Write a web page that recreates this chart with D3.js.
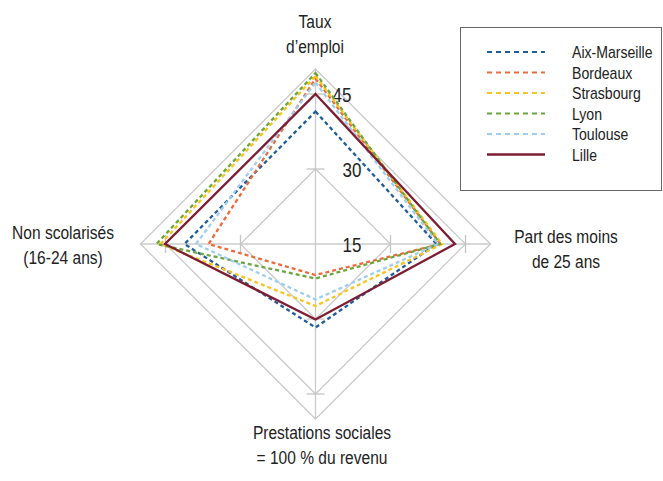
<!DOCTYPE html>
<html>
<head>
<meta charset="utf-8">
<script src="https://cdn.jsdelivr.net/npm/d3@7"></script>
<style>
  body { margin: 0; background: #fff; }
  text { font-family: "Liberation Sans", Arial, sans-serif; fill: #222; }
</style>
</head>
<body>
<div class="radar"></div>
<script>
// DATA -----------------------------------

// axes, clockwise from the top
var axes = ["Taux d'emploi", "Part des moins de 25 ans", "Prestations sociales", "Non scolarisés"];

var cities = ["Aix-Marseille", "Bordeaux", "Strasbourg", "Lyon", "Toulouse", "Lille"];

// one value per axis, same order as axes
var aixValues = [41.5, 39.2, 31.7, 41.2];
var bordeauxValues = [48.1, 40.0, 21.2, 36.4];
var strasbourgValues = [48.6, 40.3, 27.4, 46.0];
var lyonValues = [49.2, 39.9, 21.9, 46.8];
var toulouseValues = [47.3, 39.5, 26.1, 38.9];
var lilleValues = [45.0, 42.9, 30.1, 45.1];

var tickValues = [15, 30, 45];
var gridValues = [30, 45, 50];

var colors = ["#215d9a", "#ec6a3b", "#f9c41c", "#6aa63d", "#9fcdef", "#7d1d34"];

// SET UP SVG ELEMENT -----------------------------------

var svgWidth = 663;
var svgHeight = 481;

var cx = 315.5;
var cy = 244;
var outerRadius = 175;

var svg = d3.select(".radar")
  .append("svg")
  .attr("width", svgWidth)
  .attr("height", svgHeight);

var chartGroup = svg.append("g")
  .attr("transform", `translate(${cx}, ${cy})`);

// radial scale: 15 sits at the centre
var rScale = d3.scaleLinear()
  .domain([15, 50])
  .range([0, outerRadius]);

// angle of each axis (top, right, bottom, left)
var angle = d3.scaleBand()
  .domain(axes)
  .range([0, 2 * Math.PI]);

function point(axis, value) {
  var a = angle(axis);
  var r = rScale(value);
  return [r * Math.sin(a), -r * Math.cos(a)];
}

// condensed text: the original font is a narrow sans
function narrowText(parent, x, y, size, squeeze, anchor) {
  return parent.append("text")
    .attr("transform", `translate(${x}, ${y}) scale(${squeeze}, 1)`)
    .attr("text-anchor", anchor || "start")
    .style("font-size", size + "px");
}

// GRID -----------------------------------

var grid = chartGroup.append("g");

grid.selectAll("path")
  .data(gridValues)
  .enter()
  .append("path")
  .attr("d", v => d3.line()(axes.map(ax => point(ax, v))) + "Z")
  .attr("fill", "none")
  .attr("stroke", "#cbcbcb")
  .attr("stroke-width", 1.3);

// axis spokes
grid.selectAll("line.spoke")
  .data(axes)
  .enter()
  .append("line")
  .attr("class", "spoke")
  .attr("x1", 0)
  .attr("y1", 0)
  .attr("x2", d => point(d, 50)[0])
  .attr("y2", d => point(d, 50)[1])
  .attr("stroke", "#cbcbcb")
  .attr("stroke-width", 1.3);

// small tick crosses at 30 and 45 on every axis
var tickPairs = [];
axes.forEach(function(ax) {
  tickValues.slice(1).forEach(function(v) { tickPairs.push({axis: ax, value: v}); });
});

grid.selectAll("line.tick")
  .data(tickPairs)
  .enter()
  .append("line")
  .attr("class", "tick")
  .attr("transform", function(d) {
    var p = point(d.axis, d.value);
    return `translate(${p[0]}, ${p[1]}) rotate(${angle(d.axis) * 180 / Math.PI})`;
  })
  .attr("x1", -9)
  .attr("x2", 9)
  .attr("y1", 0)
  .attr("y2", 0)
  .attr("stroke", "#c4c4c4")
  .attr("stroke-width", 1.3);

// tick labels
tickValues.forEach(function(v) {
  narrowText(chartGroup, v === 45 ? 17 : 27, -rScale(v) + 8, 20, 0.85)
    .text(v);
});

// SERIES -----------------------------------

var seriesValues = [aixValues, bordeauxValues, strasbourgValues, lyonValues, toulouseValues, lilleValues];

var radarLine = d3.line()
  .x(d => d[0])
  .y(d => d[1]);

chartGroup.selectAll("path.city")
  .data(seriesValues)
  .enter()
  .append("path")
  .attr("class", "city")
  .attr("d", vals => radarLine(axes.map((ax, i) => point(ax, vals[i]))) + "Z")
  .attr("fill", "none")
  .attr("stroke", (d, i) => colors[i])
  .attr("stroke-width", 2.3)
  .attr("stroke-dasharray", (d, i) => i === 5 ? null : "4,3")
  .attr("stroke-linejoin", "miter");

// AXIS LABELS -----------------------------------

var axisLabels = [
  {lines: ["Taux", "d\u2019emploi"], x: 315, y: 28},
  {lines: ["Part des moins", "de 25 ans"], x: 566, y: 243},
  {lines: ["Prestations sociales", "= 100 % du revenu"], x: 322, y: 439},
  {lines: ["Non scolarisés", "(16-24 ans)"], x: 63, y: 239}
];

axisLabels.forEach(function(lab) {
  lab.lines.forEach(function(line, i) {
    narrowText(svg, lab.x, lab.y + i * 25, 18.5, 0.84, "middle")
      .text(line);
  });
});

// LEGEND -----------------------------------

var legend = svg.append("g");

legend.append("rect")
  .attr("x", 460.5)
  .attr("y", 27.5)
  .attr("width", 201)
  .attr("height", 163)
  .attr("fill", "#fff")
  .attr("stroke", "#666")
  .attr("stroke-width", 1);

var legendRows = legend.selectAll("g.row")
  .data(cities)
  .enter()
  .append("g")
  .attr("class", "row")
  .attr("transform", (d, i) => `translate(0, ${52 + i * 20.5})`);

legendRows.append("line")
  .attr("x1", 487)
  .attr("x2", 545)
  .attr("y1", 0)
  .attr("y2", 0)
  .attr("stroke", (d, i) => colors[i])
  .attr("stroke-width", (d, i) => i === 5 ? 2.4 : 2.2)
  .attr("stroke-dasharray", (d, i) => i === 5 ? null : "5,4");

legendRows.each(function(d) {
  narrowText(d3.select(this), 572, 6, 16, 0.88).text(d);
});
</script>
</body>
</html>
